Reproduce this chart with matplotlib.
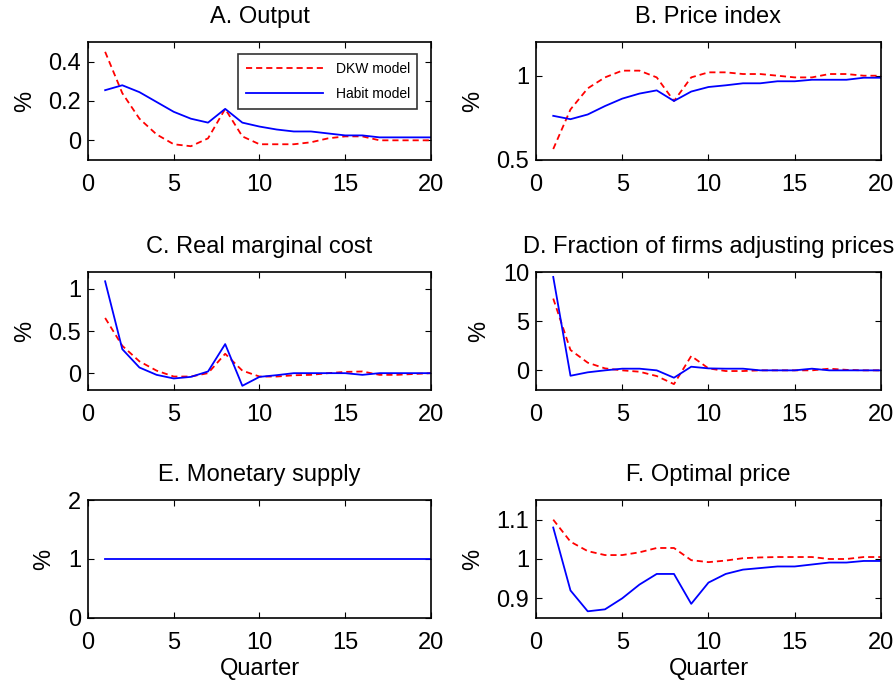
import matplotlib
matplotlib.use("Agg")
import matplotlib.pyplot as plt
from matplotlib.ticker import FuncFormatter
import numpy as np

plt.rcParams['font.family'] = ['Liberation Sans', 'DejaVu Sans']

quarters = list(range(1, 21))

output_dkw = [0.45, 0.24, 0.11, 0.03, -0.02, -0.03, 0.01, 0.16, 0.02, -0.02,
              -0.02, -0.02, -0.01, 0.01, 0.02, 0.02, 0.0, 0.0, 0.0, 0.0]
output_habit = [0.255, 0.28, 0.245, 0.195, 0.145, 0.11, 0.09, 0.16, 0.09, 0.07,
                0.055, 0.045, 0.045, 0.035, 0.025, 0.025, 0.015, 0.015, 0.015, 0.015]

price_dkw = [0.565, 0.80, 0.925, 0.99, 1.03, 1.03, 0.99, 0.85, 0.99, 1.02,
             1.02, 1.01, 1.01, 1.0, 0.99, 0.99, 1.01, 1.01, 1.0, 1.0]
price_habit = [0.762, 0.742, 0.77, 0.82, 0.864, 0.894, 0.913, 0.85, 0.906, 0.933,
               0.943, 0.955, 0.955, 0.967, 0.967, 0.976, 0.976, 0.976, 0.988, 0.988]

rmc_dkw = [0.655, 0.325, 0.14, 0.03, -0.04, -0.04, 0.0, 0.23, 0.03, -0.04,
           -0.04, -0.025, -0.02, 0.0, 0.015, 0.02, -0.02, -0.02, -0.01, 0.0]
rmc_habit = [1.09, 0.285, 0.067, -0.02, -0.063, -0.044, 0.02, 0.345, -0.15, -0.044,
             -0.024, 0.0, 0.0, 0.0, 0.0, -0.02, 0.0, 0.0, 0.0, 0.0]

frac_dkw = [7.3, 2.07, 0.78, 0.2, 0.0, -0.14, -0.58, -1.4, 1.46, 0.2,
            -0.07, -0.07, 0.0, 0.0, 0.0, 0.0, 0.17, 0.05, 0.0, 0.0]
frac_habit = [9.5, -0.55, -0.2, 0.0, 0.17, 0.17, 0.0, -0.75, 0.37, 0.2,
              0.17, 0.17, 0.0, 0.0, 0.0, 0.17, 0.0, 0.0, 0.0, 0.0]

money_habit = [1.0] * 20

opt_dkw = [1.1, 1.044, 1.02, 1.01, 1.01, 1.017, 1.028, 1.028, 0.997, 0.992,
           0.996, 1.002, 1.004, 1.005, 1.005, 1.005, 1.0, 1.0, 1.005, 1.005]
opt_habit = [1.08, 0.92, 0.867, 0.872, 0.9, 0.935, 0.962, 0.962, 0.886, 0.94,
             0.962, 0.973, 0.977, 0.981, 0.981, 0.986, 0.991, 0.991, 0.995, 0.995]

titles = ["A. Output", "B. Price index", "C. Real marginal cost",
          "D. Fraction of firms adjusting prices", "E. Monetary supply",
          "F. Optimal price"]
ylims = [(-0.1, 0.5), (0.5, 1.2), (-0.2, 1.2), (-2, 10), (0, 2), (0.85, 1.15)]
yticks = [[0, 0.2, 0.4], [0.5, 1], [0, 0.5, 1], [0, 5, 10], [0, 1, 2], [0.9, 1, 1.1]]
xticks = [0, 5, 10, 15, 20]
series = [(output_dkw, output_habit), (price_dkw, price_habit), (rmc_dkw, rmc_habit),
          (frac_dkw, frac_habit), (None, money_habit), (opt_dkw, opt_habit)]

fig = plt.figure(figsize=(8.96, 6.84), dpi=100)

lefts = [0.0982, 0.5982]
widths = [0.3828, 0.385]
bottoms = [0.7661, 0.4298, 0.0965]
height = 0.1725

fmt = FuncFormatter(lambda v, p: "%g" % v)

for i in range(6):
    r, c = divmod(i, 2)
    ax = fig.add_axes([lefts[c], bottoms[r], widths[c], height])
    dkw, habit = series[i]
    if dkw is not None:
        ax.plot(quarters, dkw, color='#ff0000', lw=1.3, dashes=(3.4, 2.2), label='DKW model')
    ax.plot(quarters, habit, color='#0000ff', lw=1.3, label='Habit model')
    ax.set_xlim(0, 20)
    ax.set_ylim(*ylims[i])
    ax.set_xticks(xticks)
    ax.set_yticks(yticks[i])
    ax.yaxis.set_major_formatter(fmt)
    ax.tick_params(direction='in', top=True, right=True, length=4.5, width=0.8,
                   labelsize=17)
    ax.tick_params(axis='x', pad=10)
    ax.tick_params(axis='y', pad=5)
    for s in ax.spines.values():
        s.set_linewidth(1.2)
    ax.set_title(titles[i], fontsize=17, pad=14)
    ax.set_ylabel('%', fontsize=17, labelpad=9)
    if r == 2:
        ax.set_xlabel('Quarter', fontsize=17, labelpad=3)
    if i == 0:
        leg = ax.legend(loc='center', bbox_to_anchor=(0.437, 0.44, 0.522, 0.45),
                        mode='expand', fontsize=10, frameon=True, fancybox=False,
                        edgecolor='black', handlelength=5.5, handletextpad=1.0,
                        borderpad=0.6, labelspacing=0.75, borderaxespad=0)
        leg.get_frame().set_linewidth(1.2)

fig.savefig('out.png', dpi=100)
